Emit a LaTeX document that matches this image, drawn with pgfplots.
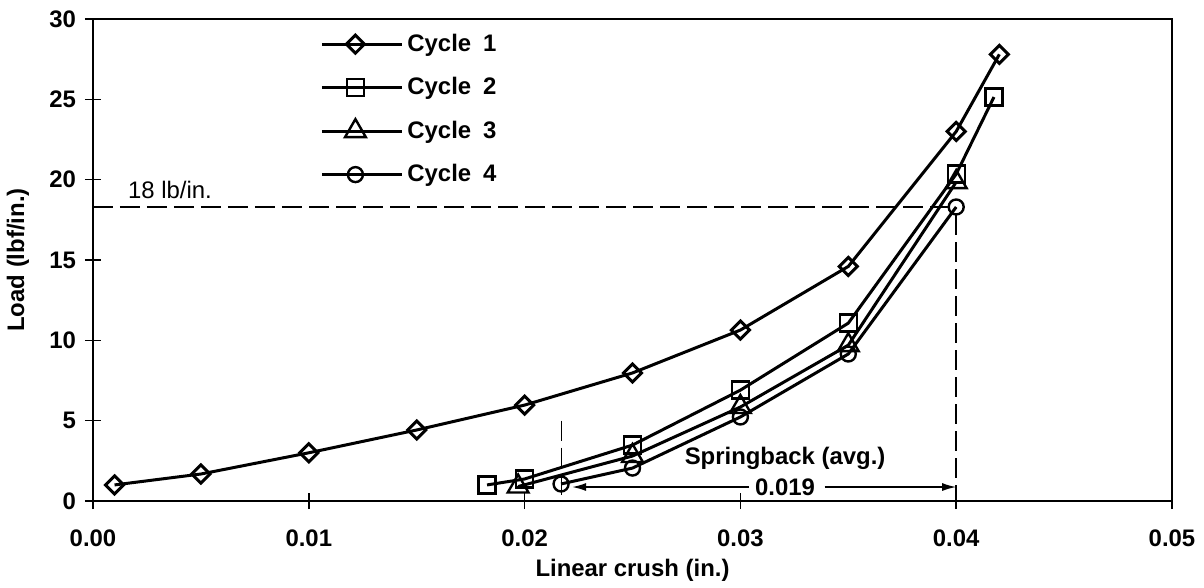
\documentclass[border=0pt]{standalone}
\usepackage{fontspec}
\setmainfont{Liberation Sans}
\usepackage{pgfplots}
\pgfplotsset{compat=1.18}
\usetikzlibrary{arrows.meta}
\newcommand{\ff}{\fontsize{12}{14}\selectfont\bfseries}
\begin{document}
\begin{tikzpicture}
\begin{axis}[
  scale only axis,
  width=539.5bp, height=241bp,
  xmin=0, xmax=0.05, ymin=0, ymax=30,
  xtick={0,0.01,0.02,0.03,0.04,0.05},
  ytick={0,5,10,15,20,25,30},
  scaled x ticks=false,
  /pgf/number format/assume math mode=true,
  tick label style={font=\ff},
  xticklabel style={yshift=-7bp, /pgf/number format/.cd, fixed, fixed zerofill, precision=2},
  yticklabel style={xshift=-1bp},
  tick align=center,
  tick pos=left,
  major tick length=8bp,
  every tick/.style={black, line width=0.8bp},
  axis line style={line width=1bp},
  xlabel={Linear crush (in.)},
  ylabel={Load (lbf/in.)},
  every axis x label/.style={at={(axis description cs:0.5,-0.1432)}, anchor=center, font=\ff},
  every axis y label/.style={at={(axis description cs:-0.0695,0.5)}, anchor=center, rotate=90, font=\ff},
  legend style={draw=none, fill=none, font=\ff, at={(axis description cs:0.2104,0.978)}, anchor=north west, inner sep=0pt, row sep=7.6bp, /tikz/every even column/.append style={column sep=0pt}},
  legend cell align=left,
  legend image code/.code={\draw[mark repeat=2, mark phase=2] plot coordinates {(0bp,0bp) (16.75bp,0bp) (33.5bp,0bp)}; \path (33.5bp,0) -- (40bp,0);},
  every axis plot/.append style={line width=1.5bp, black, mark options={fill=white, line width=1.2bp, solid}},
]
\addplot[mark=square, mark size=3.2bp, mark options={rotate=45}] coordinates {
(0.001,1.0) (0.005,1.68) (0.010,3.0) (0.015,4.42) (0.020,5.97) (0.025,7.97) (0.030,10.64) (0.035,14.6) (0.040,23.0) (0.042,27.8)};
\addlegendentry{Cycle\hspace{6bp}1}
\addplot[mark=square, mark size=4.25bp] coordinates {
(0.01826,1.0) (0.020,1.37) (0.025,3.48) (0.030,6.9) (0.035,11.07) (0.040,20.35) (0.04175,25.14)};
\addlegendentry{Cycle\hspace{6bp}2}
\addplot[mark=triangle, mark size=6bp] coordinates {
(0.0197,0.9) (0.025,2.8) (0.030,5.85) (0.035,9.7) (0.040,19.85)};
\addlegendentry{Cycle\hspace{6bp}3}
\addplot[mark=o, mark size=3.75bp] coordinates {
(0.02169,1.06) (0.025,2.05) (0.030,5.23) (0.035,9.15) (0.040,18.3)};
\addlegendentry{Cycle\hspace{6bp}4}
% annotations
\draw[line width=0.75bp, dash pattern=on 10bp off 3.5bp] (axis cs:0,18.3) -- (axis cs:0.0396,18.3);
\draw[line width=0.75bp, dash pattern=on 10bp off 3.5bp] (axis cs:0.040,17.8) -- (axis cs:0.040,0);
\draw[line width=0.75bp, dash pattern=on 10bp off 3.5bp] (axis cs:0.0217,5.0) -- (axis cs:0.0217,0);
\node[font=\fontsize{12}{14}\selectfont] at (axis cs:0.00357,19.35) {18 lb/in.};
\node[font=\ff] at (axis cs:0.03207,2.68) {Springback (avg.)};
\node[font=\ff] at (axis cs:0.03207,0.87) {0.019};
\draw[line width=0.75bp, -{Latex[length=7bp,width=4bp]}] (axis cs:0.0304,0.87) -- (axis cs:0.0222,0.87);
\draw[line width=0.75bp, -{Latex[length=7bp,width=4bp]}] (axis cs:0.0339,0.87) -- (axis cs:0.040,0.87);
\end{axis}
\path ([xshift=-46.5bp,yshift=-43.5bp]current axis.south west) rectangle ([xshift=16bp,yshift=9.5bp]current axis.north east);
\end{tikzpicture}
\end{document}
